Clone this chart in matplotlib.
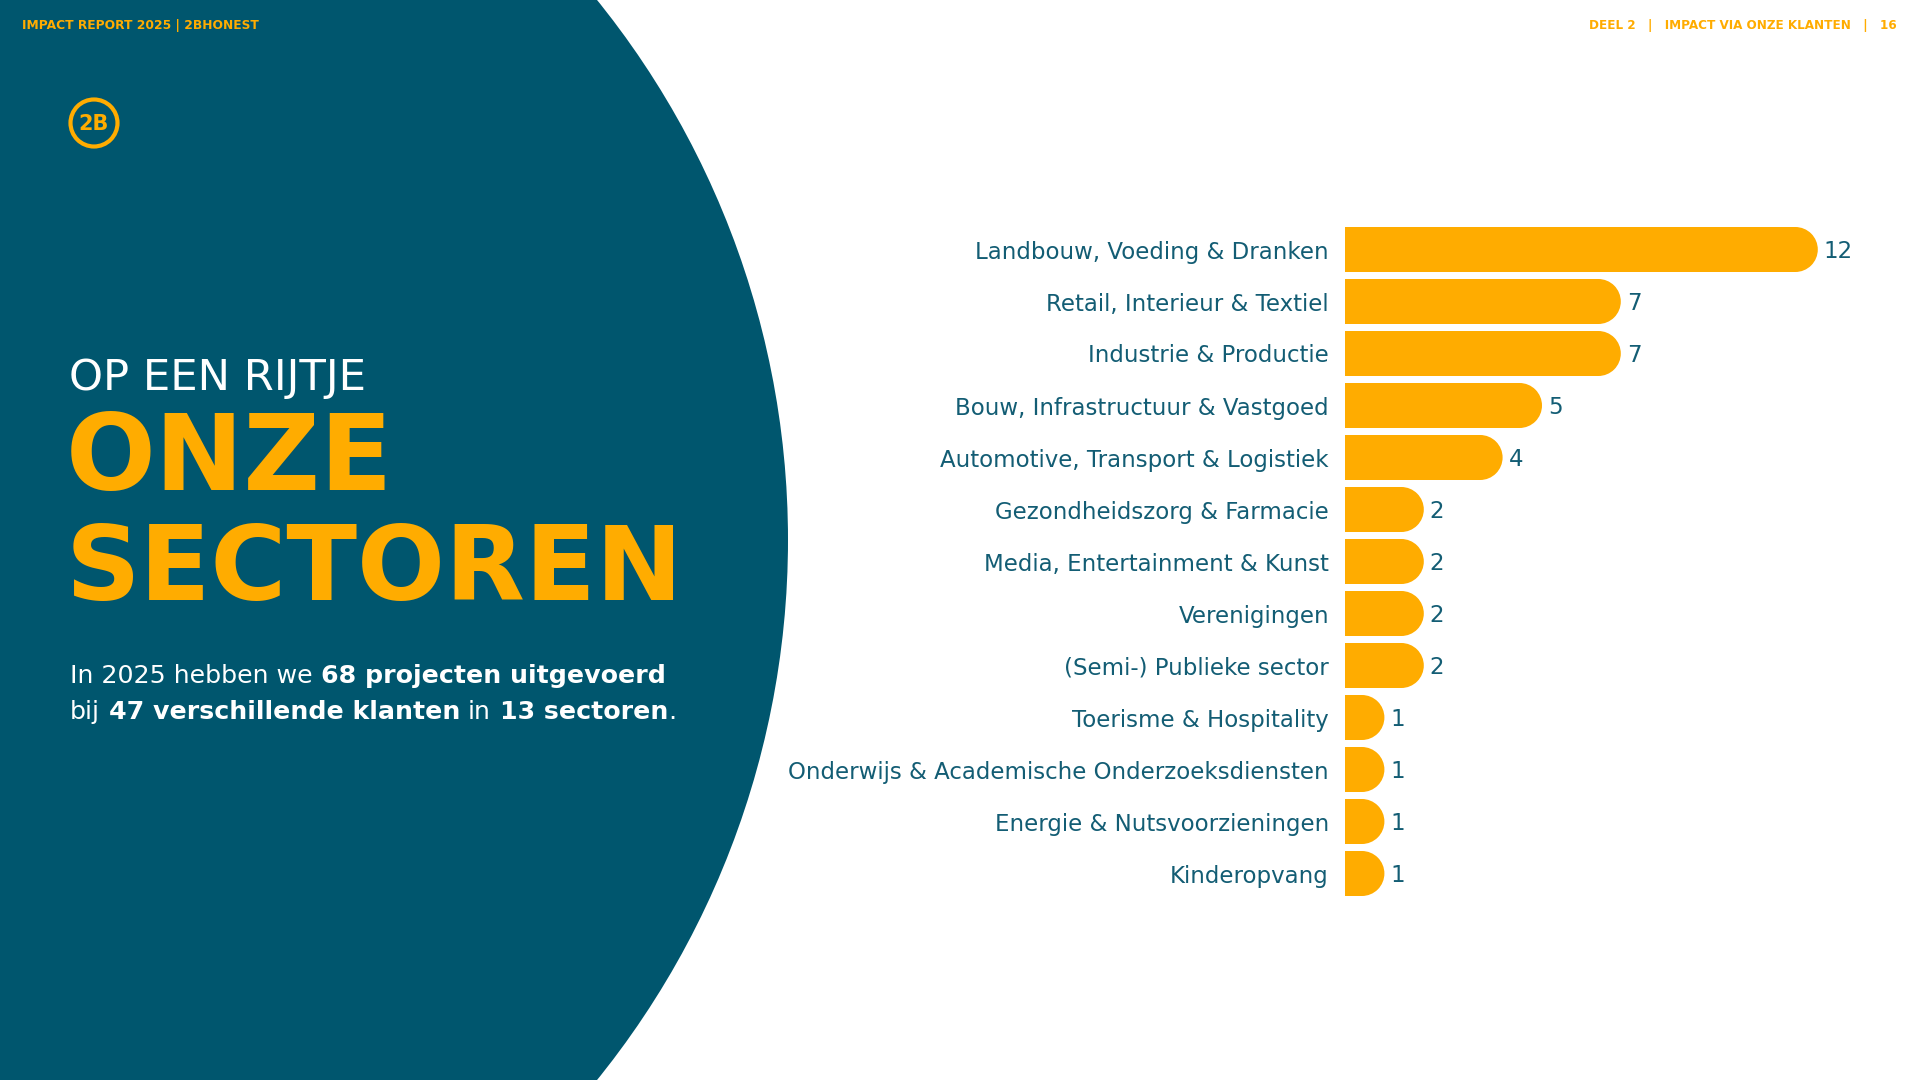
import matplotlib.pyplot as plt
from matplotlib.patches import Circle, Ellipse

sectors = ["Landbouw, Voeding & Dranken", "Retail, Interieur & Textiel", "Industrie & Productie",
           "Bouw, Infrastructuur & Vastgoed", "Automotive, Transport & Logistiek",
           "Gezondheidszorg & Farmacie", "Media, Entertainment & Kunst", "Verenigingen",
           "(Semi-) Publieke sector", "Toerisme & Hospitality",
           "Onderwijs & Academische Onderzoeksdiensten", "Energie & Nutsvoorzieningen",
           "Kinderopvang"]
projects = [12, 7, 7, 5, 4, 2, 2, 2, 2, 1, 1, 1, 1]

header_left = "IMPACT REPORT 2025 | 2BHONEST"
header_right = "DEEL 2   |   IMPACT VIA ONZE KLANTEN   |   16"
kicker = "OP EEN RIJTJE"
title_lines = ["ONZE", "SECTOREN"]
# (text, weight, space before)
intro_lines = [
    [("In 2025 hebben we", "normal", False), ("68 projecten uitgevoerd", "bold", True)],
    [("bij", "normal", False), ("47 verschillende klanten", "bold", True), ("in", "normal", True),
     ("13 sectoren", "bold", True), (".", "normal", False)],
]

TEAL = "#00566E"
AMBER = "#FFAC00"
INK = "#135D74"

plt.rcParams['font.family'] = ['DejaVu Sans']

fig = plt.figure(figsize=(19.2, 10.8), dpi=100, facecolor='white')
bg = fig.add_axes([0, 0, 1, 1])
bg.set_xlim(0, 1920)
bg.set_ylim(1080, 0)
bg.axis('off')
bg.add_patch(Circle((-71, 540), 859, color=TEAL, lw=0))

renderer = fig.canvas.get_renderer()


def width_of(t):
    return t.get_window_extent(renderer).width


def fit(t, target):
    t.set_fontsize(t.get_fontsize() * target / width_of(t))


# header texts
t = bg.text(22, 25, header_left, color=AMBER, fontsize=9, fontweight='bold', va='center')
fit(t, 237)
t = bg.text(1897, 25, header_right, color=AMBER, fontsize=9, fontweight='bold', va='center', ha='right')
fit(t, 309)

# logo
bg.add_patch(Circle((94, 123), 23.5, fill=False, ec=AMBER, lw=3))
bg.text(94, 124, "2B", ha='center', va='center', fontsize=15, fontweight='bold', color=AMBER)

# title block
t = bg.text(69, 390, kicker, color='white', fontsize=24, va='baseline')
fit(t, 298)
t = bg.text(66, 490, title_lines[0], color=AMBER, fontsize=70, fontweight='bold', va='baseline')
fit(t, 327)
t = bg.text(66, 600, title_lines[1], color=AMBER, fontsize=70, fontweight='bold', va='baseline')
fit(t, 618)

# intro paragraph, mixed weights
intro_size = 18.2
for runs, base in zip(intro_lines, [683, 719]):
    x = 70
    for text, weight, space in runs:
        if space:
            a = bg.text(0, -100, "x x", fontsize=intro_size, fontweight=weight)
            b = bg.text(0, -100, "xx", fontsize=intro_size, fontweight=weight)
            x += width_of(a) - width_of(b)
            a.remove()
            b.remove()
        t = bg.text(x, base, text, color='white', fontsize=intro_size, fontweight=weight, va='baseline')
        x += width_of(t)

# bar chart
px_per_unit = 39.4
row = 52
bar_px = 45
ax_left, ax_right = 1345, 1920
top = 249.5 - row / 2
bottom = top + row * len(sectors)
ax = fig.add_axes([ax_left / 1920, 1 - bottom / 1080, (ax_right - ax_left) / 1920, (bottom - top) / 1080])
ax.set_xlim(0, (ax_right - ax_left) / px_per_unit)
ax.set_ylim(len(sectors) - 0.5, -0.5)
ax.patch.set_alpha(0)
for s in ax.spines.values():
    s.set_visible(False)

cap = bar_px / 2 / px_per_unit
bar_h = bar_px / row
ypos = list(range(len(sectors)))
ends = [v - cap for v in projects]
ax.barh(ypos, ends, height=bar_h, color=AMBER, lw=0, snap=False)
for e, y in zip(ends, ypos):
    ax.add_patch(Ellipse((e, y), 2 * cap, bar_h, color=AMBER, lw=0))

for i, v in enumerate(projects):
    ax.text(v + 6 / px_per_unit, i + 8 / row, str(v), va='baseline', color=INK, fontsize=16.5)

ax.set_xticks([])
ax.set_yticks(ypos, sectors)
ax.tick_params(axis='y', length=0, pad=16 * 0.72, labelsize=16.5, labelcolor=INK)

fig.savefig('out.png', dpi=100, facecolor='white')
